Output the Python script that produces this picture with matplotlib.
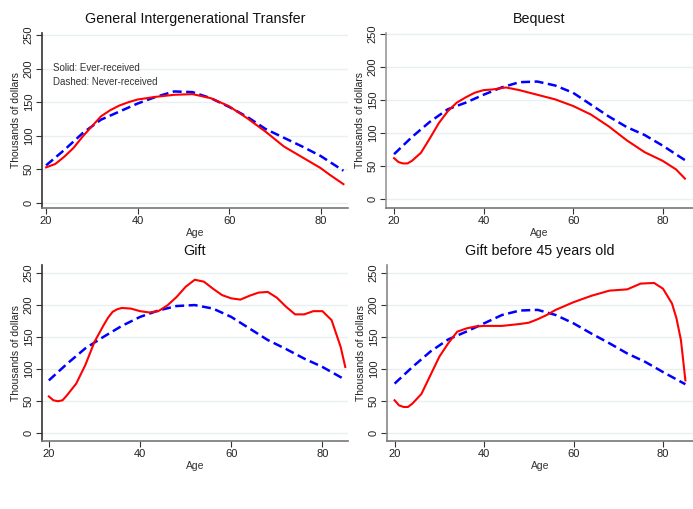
import matplotlib
matplotlib.use("Agg")
import matplotlib.pyplot as plt

plt.rcParams['font.family'] = ['Liberation Sans', 'DejaVu Sans']

# ---- data (thousands of dollars) ----
gen_age_r = [20, 22, 24, 26, 28, 30, 32, 34, 36, 38, 40, 44, 48, 52, 56, 60, 64, 68, 72, 76, 80, 82, 85]
gen_r = [53, 58, 69, 82, 99, 114, 129, 138, 145, 150, 154, 158, 161, 162, 156, 144, 126, 106, 84, 68, 52, 42, 28]
gen_age_b = [20, 24, 28, 32, 36, 40, 44, 48, 52, 56, 60, 64, 68, 72, 76, 80, 85]
gen_b = [56, 79, 104, 124, 136, 148, 158, 166, 165, 156, 143, 128, 110, 97, 84, 70, 48]

beq_age_r = [20, 21, 22, 23, 24, 26, 28, 30, 32, 34, 36, 38, 40, 42, 45, 48, 52, 56, 60, 64, 68, 72, 76, 80, 83, 85]
beq_r = [62, 56, 54, 54, 58, 70, 92, 115, 133, 146, 154, 161, 165, 166, 169, 165, 158, 151, 141, 128, 110, 89, 71, 58, 45, 31]
beq_age_b = [20, 24, 28, 32, 36, 40, 44, 48, 52, 56, 60, 64, 68, 72, 76, 80, 85]
beq_b = [68, 94, 117, 136, 146, 158, 169, 177, 178, 172, 161, 143, 125, 109, 97, 81, 59]

gift_age_r = [20, 21, 22, 23, 24, 26, 28, 30, 32, 33, 34, 35, 36, 38, 40, 42, 44, 46, 48, 50, 52, 54, 56, 58,
              60, 62, 64, 66, 68, 70, 72, 74, 76, 78, 80, 82, 84, 85]
gift_r = [57, 51, 49.5, 51, 59, 77, 106, 142, 168, 180, 189, 193, 195, 194, 190, 188, 190, 199, 212, 228, 239,
          236, 225, 215, 210, 208, 214, 219, 220, 211, 197, 185, 185, 190, 190, 176, 134, 103]
gift_age_b = [20, 24, 28, 32, 36, 40, 44, 48, 52, 56, 60, 64, 68, 72, 76, 80, 85]
gift_b = [82, 108, 132, 150, 167, 181, 191, 198, 199.5, 194, 181, 163, 145, 131, 116, 103, 83]

g45_age_r = [20, 21, 22, 23, 24, 26, 28, 30, 32, 34, 36, 38, 40, 44, 48, 50, 52, 54, 56, 60, 64, 68, 72, 75,
             78, 80, 82, 83, 84, 85]
g45_r = [51, 43, 40.6, 40.6, 46, 61, 90, 119, 140, 158, 163, 166, 167, 167, 170, 172, 177.5, 184, 192, 204,
         214, 222, 224, 233, 234, 225, 202, 179, 145, 82]
g45_age_b = [20, 24, 28, 32, 36, 40, 44, 48, 52, 56, 60, 64, 68, 72, 76, 80, 85]
g45_b = [77, 103, 127, 146, 158, 171, 184, 191, 192, 184, 171, 155, 140, 124, 111, 95, 76]

titles = ["General Intergenerational Transfer", "Bequest", "Gift", "Gift before 45 years old"]
yticks = [0, 50, 100, 150, 200, 250]
xticks = [20, 40, 60, 80]

panels = [
    (gen_age_r, gen_r, gen_age_b, gen_b),
    (beq_age_r, beq_r, beq_age_b, beq_b),
    (gift_age_r, gift_r, gift_age_b, gift_b),
    (g45_age_r, g45_r, g45_age_b, g45_b),
]

W, H = 693, 509
fig = plt.figure(figsize=(W / 100, H / 100), dpi=100)

# axes boxes in pixels: left, right, top, bottom
boxes = [(42, 348, 33, 208), (386, 693, 33, 208), (42, 348, 265, 441), (387, 693, 265, 441)]
xlims = [(19.1, 86.0), (18.2, 86.8), (18.5, 85.6), (18.3, 86.7)]
ylims = [(-7.5, 253), (-13.5, 251.5), (-12.5, 262), (-12.5, 262)]
left_spine_cols = ['#333333', '#999999', '#333333', '#888888']

grid_col = '#e8f0f2'
for i, (box, (ar, r, ab, b)) in enumerate(zip(boxes, panels)):
    l, rr, t, bt = box
    ax = fig.add_axes([l / W, (H - bt) / H, (rr - l) / W, (bt - t) / H])
    ax.set_xlim(*xlims[i])
    ax.set_ylim(*ylims[i])
    for y in yticks:
        ax.axhline(y, color=grid_col, lw=1.0, zorder=0)
    ax.plot(ar, r, color='#ff0000', lw=1.5, solid_joinstyle='round', zorder=3)
    ax.plot(ab, b, color='#0000ff', lw=1.8, dashes=(3.6, 1.8), zorder=2)
    ax.set_xticks(xticks)
    ax.set_yticks(yticks)
    ax.set_yticklabels([str(v) for v in yticks], rotation=90, va='center')
    ax.tick_params(axis='both', labelsize=8, length=4, width=0.8, color='#333333',
                   labelcolor='#222222', pad=2)
    for s in ['top', 'right']:
        ax.spines[s].set_visible(False)
    ax.spines['left'].set_color(left_spine_cols[i])
    ax.spines['bottom'].set_color('#777777')
    ax.spines['left'].set_linewidth(1.2)
    ax.spines['bottom'].set_linewidth(1.2)
    ax.set_xlabel("Age", fontsize=7.5, color='#333333', labelpad=1)
    ax.set_ylabel("Thousands of dollars", fontsize=7.5, color='#222222', labelpad=2)
    ax.set_title(titles[i], fontsize=10.3, color='#111111', pad=7)

# annotation in figure pixel coords
fig.text(53 / W, 1 - 68 / H, "Solid: Ever-received", fontsize=7, color='#333333', va='center')
fig.text(53 / W, 1 - 82 / H, "Dashed: Never-received", fontsize=7, color='#333333', va='center')

fig.savefig("out.png", dpi=100, facecolor='white')
